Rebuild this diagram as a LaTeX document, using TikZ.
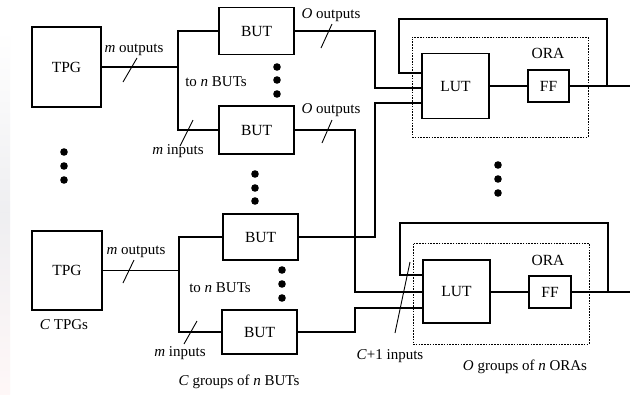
\documentclass[tikz,border=0pt]{standalone}
\usepackage{fontspec}
\setmainfont{Liberation Serif}
\begin{document}
\begin{tikzpicture}[x=1pt,y=-1pt,
  blk/.style={draw, line width=1.2pt, rectangle, inner sep=0pt, font=\fontsize{15.5}{18}\selectfont},
  wire/.style={line width=1.1pt},
  slash/.style={line width=0.9pt},
  orabox/.style={draw, line width=0.8pt, dash pattern=on 1.6pt off 1.2pt, rectangle, inner sep=0pt},
  lbl/.style={font=\fontsize{15}{18}\selectfont, inner sep=0pt},
  dot/.style={fill=black}]
\useasboundingbox (0,0) rectangle (634,394);
\fill[white] (0,0) rectangle (634,394);
\shade[top color=white, bottom color=black!6!red!3, middle color=blue!8!gray!12] (0,30) rectangle (10,394);

% TPGs
\node[blk, minimum width=69pt, minimum height=80pt] (tpg1) at (66.5,67) {TPG};
\node[blk, minimum width=70pt, minimum height=79pt] (tpg2) at (67,270.5) {TPG};

% BUTs
\node[blk, minimum width=75pt, minimum height=47pt] (but1) at (256.5,31) {BUT};
\node[blk, minimum width=75pt, minimum height=48pt] (but2) at (256.5,130) {BUT};
\node[blk, minimum width=75pt, minimum height=46pt] (but3) at (260.5,237) {BUT};
\node[blk, minimum width=75pt, minimum height=44pt] (but4) at (259.5,332) {BUT};

% ORAs
\node[orabox, minimum width=176pt, minimum height=100pt] (ora1) at (500,87) {};
\node[orabox, minimum width=176pt, minimum height=101pt] (ora2) at (501,293.5) {};
\node[lbl, font=\fontsize{15.5}{18}\selectfont] (oralbl1) at (548,53) {ORA};
\node[lbl, font=\fontsize{15.5}{18}\selectfont] (oralbl2) at (548,260) {ORA};

\node[blk, minimum width=67pt, minimum height=65pt] (lut1) at (455.5,86) {LUT};
\node[blk, minimum width=67pt, minimum height=63pt] (lut2) at (456.5,291.5) {LUT};
\node[blk, minimum width=41pt, minimum height=32pt] (ff1) at (548.5,86) {FF};
\node[blk, minimum width=42pt, minimum height=32pt] (ff2) at (550,292) {FF};

% fan-out from TPGs
\coordinate (s1) at (178,67);
\coordinate (s2) at (179,270.5);
\draw[wire] (tpg1.east) -- (s1);
\draw[wire] (but1.west) -| (s1);
\draw[wire] (but2.west) -| (s1);
\draw[wire] (tpg2.east) -- (s2);
\draw[wire] (but3.west) -| (s2);
\draw[wire] (but4.west) -| (s2);

% BUT outputs to LUTs
\coordinate (j1) at (375,88);
\coordinate (j2) at (375,103);
\coordinate (j3) at (355,292);
\coordinate (j4) at (355,308);
\draw[wire] (but1.east) -| (j1) -- (j1 -| lut1.west);
\draw[wire] (but3.east) -| (j2) -- (j2 -| lut1.west);
\draw[wire] (but2.east) -| (j3) -- (j3 -| lut2.west);
\draw[wire] (but4.east) -| (j4) -- (j4 -| lut2.west);

% LUT -> FF -> out
\draw[wire] (lut1.east |- ff1.west) -- (ff1.west);
\draw[wire] (lut2.east |- ff2.west) -- (ff2.west);
\coordinate (o1) at (630,86);
\coordinate (o2) at (630,292);
\draw[wire] (ff1.east) -- (o1);
\draw[wire] (ff2.east) -- (o2);

% feedback
\coordinate (f1) at (607,86);
\coordinate (f2) at (608,292);
\coordinate (k1) at (399,73);
\coordinate (k2) at (400,275);
\draw[wire] (f1) |- (399,19) -- (k1) -- (k1 -| lut1.west);
\draw[wire] (f2) |- (400,223) -- (k2) -- (k2 -| lut2.west);

% bus slashes
\draw[slash] (123,82) -- (137,58);
\draw[slash] (123,283) -- (134,260);
\draw[slash] (180,146) -- (193,120);
\draw[slash] (184,344) -- (197,321);
\draw[slash] (321,48) -- (332,24);
\draw[slash] (322,143) -- (332,120);
\draw[slash] (395,333) -- (410,262);

% dots
\foreach \yy in {152,166,180} \fill[dot] (64,\yy) circle (3.8);
\foreach \yy in {67,80,94} \fill[dot] (277,\yy) circle (3.8);
\foreach \yy in {174,188,201} \fill[dot] (255,\yy) circle (3.8);
\foreach \yy in {270,284,298} \fill[dot] (282,\yy) circle (3.8);
\foreach \yy in {165,179,193} \fill[dot] (498,\yy) circle (3.8);

% labels
\node[lbl] (t1) at (134,50) {\textit{m} outputs};
\node[lbl] (t2) at (216,82) {to \textit{n} BUTs};
\node[lbl] (t3) at (178,151) {\textit{m} inputs};
\node[lbl] (t4) at (331,15) {\textit{O} outputs};
\node[lbl] (t5) at (331,110) {\textit{O} outputs};
\node[lbl] (t6) at (136,252) {\textit{m} outputs};
\node[lbl] (t7) at (220,288) {to \textit{n} BUTs};
\node[lbl] (t8) at (180,353) {\textit{m} inputs};
\node[lbl] (t9) at (64,325) {\textit{C} TPGs};
\node[lbl] (t10) at (239,382) {\textit{C} groups of \textit{n} BUTs};
\node[lbl] (t11) at (390,356) {\textit{C}+1 inputs};
\node[lbl] (t12) at (525,367) {\textit{O} groups of \textit{n} ORAs};
\end{tikzpicture}
\end{document}
